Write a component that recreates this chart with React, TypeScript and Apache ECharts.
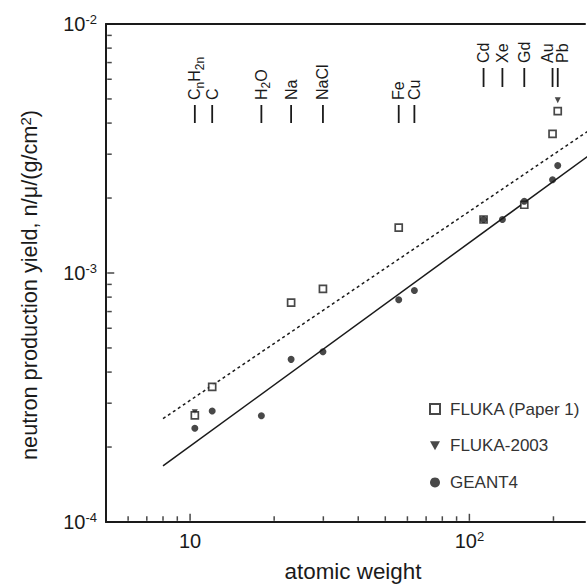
import React, { useEffect, useRef } from 'react';
import * as echarts from 'echarts';

// ---------------- data ----------------
const elementNames = ['CnH2n', 'C', 'H2O', 'Na', 'NaCl', 'Fe', 'Cu', 'Cd', 'Xe', 'Gd', 'Au', 'Pb'];
const elementWeights = [10.4, 12, 18, 23, 29.9, 55.85, 63.55, 112.4, 131.3, 157.25, 198.5, 207.2];
const elementTier = [0, 0, 0, 0, 0, 0, 0, 1, 1, 1, 1, 1];

const flukaP1X = [10.4, 12, 23, 29.9, 55.85, 112.4, 157.25, 198.5, 207.2];
const flukaP1Y = [2.68e-4, 3.49e-4, 7.6e-4, 8.64e-4, 1.52e-3, 1.64e-3, 1.88e-3, 3.62e-3, 4.47e-3];

const fluka2003X = [10.4, 207.2];
const fluka2003Y = [2.76e-4, 4.94e-3];

const geant4X = [10.4, 12, 18, 23, 29.9, 55.85, 63.55, 112.4, 131.3, 157.25, 198.5, 207.2];
const geant4Y = [2.38e-4, 2.79e-4, 2.67e-4, 4.5e-4, 4.83e-4, 7.81e-4, 8.51e-4, 1.64e-3, 1.64e-3, 1.94e-3, 2.37e-3, 2.7e-3];

const fitGeantX = [8, 300];
const fitGeantY = [1.68e-4, 3.25e-3];
const fitFlukaX = [8, 300];
const fitFlukaY = [2.6e-4, 4.07e-3];

const xMajorTicks = [10, 100];
const xMinorTicks = [6, 7, 8, 9, 20, 30, 40, 50, 60, 70, 80, 90, 200];
const yMajorTicks = [1e-4, 1e-3, 1e-2];
const yMinorTicks = [2e-4, 3e-4, 4e-4, 5e-4, 6e-4, 7e-4, 8e-4, 9e-4, 2e-3, 3e-3, 4e-3, 5e-3, 6e-3, 7e-3, 8e-3, 9e-3];

const X_MIN = 5;
const X_MAX = 259.4;
const Y_MIN = 1e-4;
const Y_MAX = 1e-2;

// ---------------- styles ----------------
const FONT = '"Liberation Sans", Arial, Helvetica, sans-serif';
const INK = '#1a1a1a';
const LABEL_SHIFT: Record<string, number> = { Au: -5, Pb: 5 };
const X_ANCHOR = X_MIN * 1.002;
const Y_ANCHOR = Y_MIN * 1.002;

const zip = (xs: number[], ys: number[]) => xs.map((x, i) => [x, ys[i]]);
const toRich = (s: string) => s.replace(/([0-9]+n?|n)/g, '{sub|$1}');

const powLabel = (v: number, isX: boolean) => {
  const e = Math.log10(v);
  const r = Math.round(e);
  if (Math.abs(e - r) > 1e-6) return '';
  if (isX && r === 1) return '{b|10}';
  return `{b|10}{s|${r}}`;
};

const tickRich = {
  b: { fontSize: 20, fontFamily: FONT, color: INK, lineHeight: 22 },
  s: { fontSize: 13, fontFamily: FONT, color: INK, lineHeight: 13, verticalAlign: 'top' },
};

const hiddenLogAxis = (extra: any) => ({
  type: 'log',
  logBase: 10,
  axisTick: { show: false },
  splitLine: { show: false },
  minorTick: { show: false },
  ...extra,
});

// axis tick marks as thin scatter symbols, positioned by the axes' scales
const tickMarks = (vals: number[], onX: boolean, len: number) => ({
  type: 'scatter',
  silent: true,
  clip: false,
  z: 8,
  data: vals.map((v) => (onX ? [v, Y_ANCHOR] : [X_ANCHOR, v])),
  symbol: 'rect',
  symbolSize: onX ? [1.5, len] : [len, 1.5],
  symbolOffset: onX ? [0, -len / 2 - 1] : [len / 2 + 1, 0],
  itemStyle: { color: INK },
  emphasis: { disabled: true },
  tooltip: { show: false },
});

export default function App() {
  const ref = useRef<HTMLDivElement>(null);
  useEffect(() => {
    if (!ref.current) return;
    const chart = echarts.init(ref.current, undefined, { renderer: 'svg' });
    const option: any = {
      animation: false,
      backgroundColor: '#fff',
      grid: { left: 106, top: 24, right: 0, bottom: 61.3 },
      legend: {
        orient: 'vertical',
        left: 424,
        top: 394,
        itemWidth: 10,
        itemHeight: 10,
        itemGap: 16.7,
        selectedMode: false,
        data: ['FLUKA (Paper 1)', 'FLUKA-2003', 'GEANT4'],
        textStyle: { fontSize: 17, fontFamily: FONT, color: '#333', lineHeight: 20, padding: [0, 0, 0, 5] },
      },
      xAxis: [
        hiddenLogAxis({
          min: X_MIN,
          max: X_MAX,
          name: 'atomic weight',
          nameLocation: 'middle',
          nameGap: 38,
          nameTextStyle: { fontSize: 22.4, fontFamily: FONT, color: INK, padding: [0, 0, 0, 15] },
          axisLine: { show: true, lineStyle: { color: INK, width: 2 } },
          axisLabel: { margin: 8, formatter: (v: number) => powLabel(v, true), rich: tickRich },
        }),
        hiddenLogAxis({
          position: 'top',
          min: X_MIN,
          max: X_MAX,
          axisLine: { show: true, lineStyle: { color: INK, width: 2 } },
          axisLabel: { show: false },
        }),
      ],
      yAxis: hiddenLogAxis({
        min: Y_MIN,
        max: Y_MAX,
        name: 'neutron production yield, n/\u03bc/(g/cm{sup|2})',
        nameLocation: 'middle',
        nameRotate: 90,
        nameGap: 66,
        nameTextStyle: {
          fontSize: 21.7,
          fontFamily: FONT,
          color: INK,
          padding: [0, 24, 0, 0],
          rich: { sup: { fontSize: 15, fontFamily: FONT, color: INK, verticalAlign: 'top', lineHeight: 15 } },
        },
        axisLine: { show: true, lineStyle: { color: INK, width: 2 } },
        axisLabel: { margin: 9, formatter: (v: number) => powLabel(v, false), rich: tickRich },
      }),
      series: [
        {
          type: 'line',
          data: zip(fitGeantX, fitGeantY),
          showSymbol: false,
          symbol: 'none',
          silent: true,
          clip: true,
          z: 2,
          lineStyle: { color: INK, width: 1.5, type: 'solid' },
        },
        {
          type: 'line',
          data: zip(fitFlukaX, fitFlukaY),
          showSymbol: false,
          symbol: 'none',
          silent: true,
          clip: true,
          z: 2,
          lineStyle: { color: INK, width: 1.5, type: [3, 3] },
        },
        {
          name: 'FLUKA-2003',
          type: 'scatter',
          data: zip(fluka2003X, fluka2003Y),
          symbol: 'path://M0,0L10,0L5,9Z',
          symbolSize: 6,
          z: 3,
          itemStyle: { color: INK },
        },
        {
          name: 'FLUKA (Paper 1)',
          type: 'scatter',
          data: zip(flukaP1X, flukaP1Y),
          symbol: 'rect',
          symbolSize: 7,
          z: 4,
          itemStyle: { color: '#fff', borderColor: INK, borderWidth: 1.7 },
        },
        {
          name: 'GEANT4',
          type: 'scatter',
          data: zip(geant4X, geant4Y),
          symbol: 'circle',
          symbolSize: 7,
          z: 5,
          itemStyle: { color: INK },
        },
        tickMarks(xMajorTicks, true, 7),
        tickMarks(xMinorTicks, true, 4.5),
        tickMarks(yMajorTicks, false, 7),
        tickMarks(yMinorTicks, false, 4.5),
        {
          // element markers at the top
          type: 'custom',
          coordinateSystem: 'cartesian2d',
          silent: true,
          clip: false,
          z: 6,
          data: elementWeights.map((w) => [w, Y_MAX]),
          renderItem: (params: any, api: any) => {
            const i = params.dataIndex;
            const pt = api.coord([api.value(0), Y_MAX]);
            const x = pt[0];
            const top = pt[1];
            const tier = elementTier[i];
            const y1 = top + (tier ? 44 : 81);
            const y2 = top + (tier ? 63 : 99);
            const name = elementNames[i];
            const shift = LABEL_SHIFT[name] || 0;
            return {
              type: 'group',
              children: [
                { type: 'line', shape: { x1: x, y1, x2: x, y2 }, style: { stroke: INK, lineWidth: 1.8 } },
                {
                  type: 'text',
                  x: x + shift,
                  y: y1 - 5,
                  rotation: Math.PI / 2,
                  style: {
                    text: toRich(name),
                    fill: INK,
                    fontSize: 16,
                    fontFamily: FONT,
                    align: 'left',
                    verticalAlign: 'middle',
                    textAlign: 'left',
                    textVerticalAlign: 'middle',
                    lineHeight: 22,
                    rich: {
                      sub: { fontSize: 12, fontFamily: FONT, fill: INK, lineHeight: 10, verticalAlign: 'bottom' },
                    },
                  },
                },
              ],
            };
          },
        },
      ],
    };
    chart.setOption(option);
    return () => chart.dispose();
  }, []);
  return (
    <div
      ref={ref}
      style={{ position: 'absolute', left: 0, top: 0, width: 588, height: 587, background: '#fff' }}
    />
  );
}
